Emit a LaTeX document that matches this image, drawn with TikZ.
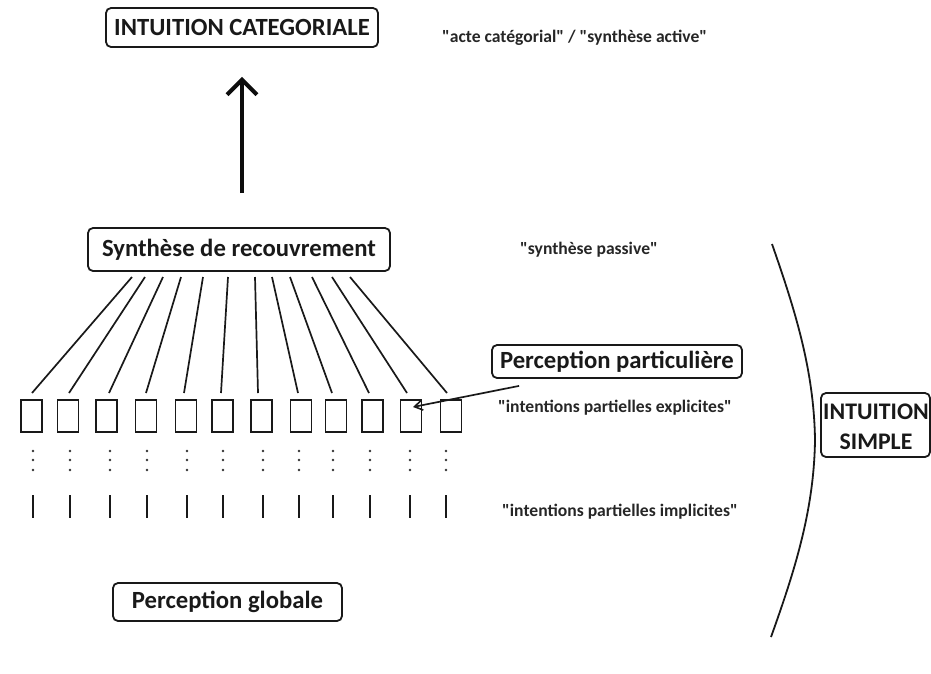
\documentclass[tikz,border=0pt]{standalone}
\usepackage{fontspec}
\setmainfont{Carlito}[Ligatures=TeXOff]
\usetikzlibrary{arrows.meta,calc}

\tikzset{
  label box/.style={draw=black!90, line width=1.8pt, rounded corners=5pt,
    inner sep=0pt, font=\bfseries\fontsize{24.7}{28}\selectfont, text=black!90},
  quote text/.style={anchor=west, inner sep=0pt,
    font=\bfseries\fontsize{17.6}{20}\selectfont, text=black!85},
  part box/.style={draw=black!90, line width=1.9pt, minimum width=21pt,
    minimum height=32pt, inner sep=0pt},
  link/.style={draw=black!90, line width=1.7pt},
  bar/.style={draw=black!90, line width=2pt},
  dot/.style={fill=black!80, draw=none},
}

\begin{document}
\begin{tikzpicture}[x=1pt, y=-1pt]
  \useasboundingbox (0,0) rectangle (931,673);

  % main boxes
  \node[label box, minimum width=272pt, minimum height=39pt] (cat) at (242,27.5) {INTUITION CATEGORIALE};
  \node[label box, minimum width=302pt, minimum height=43pt] (syn) at (239,249.5) {Synthèse de recouvrement};
  \node[label box, minimum width=250pt, minimum height=33pt] (pp) at (617,361.5) {Perception particulière};
  \node[label box, minimum width=229pt, minimum height=38pt] (pg) at (227.5,602) {Perception globale};

  % quoted captions
  \node[quote text] (acte) at (442,38) {"acte catégorial" / "synthèse active"};
  \node[quote text] (passive) at (520,250) {"synthèse passive"};
  \node[quote text] (expl) at (498,408) {"intentions partielles explicites"};
  \node[quote text] (impl) at (502,512) {"intentions partielles implicites"};

  % upward arrow towards the categorial intuition
  \coordinate (abase) at (242,193);
  \coordinate (atip) at ($(cat.south)+(0,29)$);
  \draw[line width=4.5pt, draw=black!95, -{Straight Barb[length=15pt,width=30pt,line width=4pt]}] (abase) -- (atip);

  % partial intentions: boxes, dotted continuations and bars
  \foreach \i/\bx/\tx/\lx in {1/31.5/132/32, 2/68/145/69, 3/106.5/163/109, 4/146/181/146,
      5/186/203/184, 6/222.5/228/221, 7/261.5/255/258, 8/301/272/298,
      9/336/290/332, 10/372.5/312/369, 11/411/332/407, 12/451/350/447} {
    \node[part box] (p\i) at (\bx,416) {};
    \coordinate (t\i) at (\tx,277);
    \coordinate (b\i) at (\lx,393);
    \draw[link] (t\i) -- (b\i);
  }
  \foreach \x in {33,70,110,147,187,223,263,299,333,370,410,446} {
    \foreach \y in {451,460,470} \fill[dot] (\x,\y) circle (1.3pt);
    \draw[bar] (\x,495) -- (\x,518);
  }

  % pointer from the particular perception to one partial intention
  \coordinate (ppfoot) at ($(pp.south west)+(28,7)$);
  \draw[link, -{Straight Barb[length=8pt,width=10pt,line width=1.6pt]}] (ppfoot) -- ($(p11.center)+(2,-9)$);

  % bracket around the simple intuition
  \coordinate (c1) at (772,244);
  \coordinate (c2) at (815,440);
  \coordinate (c3) at (771,637);
  \draw[draw=black!90, line width=1.8pt] (c1) .. controls (795,310) and (814,370) .. (c2)
     .. controls (814,510) and (795,570) .. (c3);

  % simple intuition label, its frame running past the right edge
  \draw[draw=black!90, line width=1.8pt, rounded corners=5pt] (821,393) rectangle (930,457);
  \node[font=\bfseries\fontsize{23.8}{30}\selectfont, text=black!90, align=center, inner sep=0pt] (simple) at (876,427) {INTUITION\\SIMPLE};
\end{tikzpicture}
\end{document}
